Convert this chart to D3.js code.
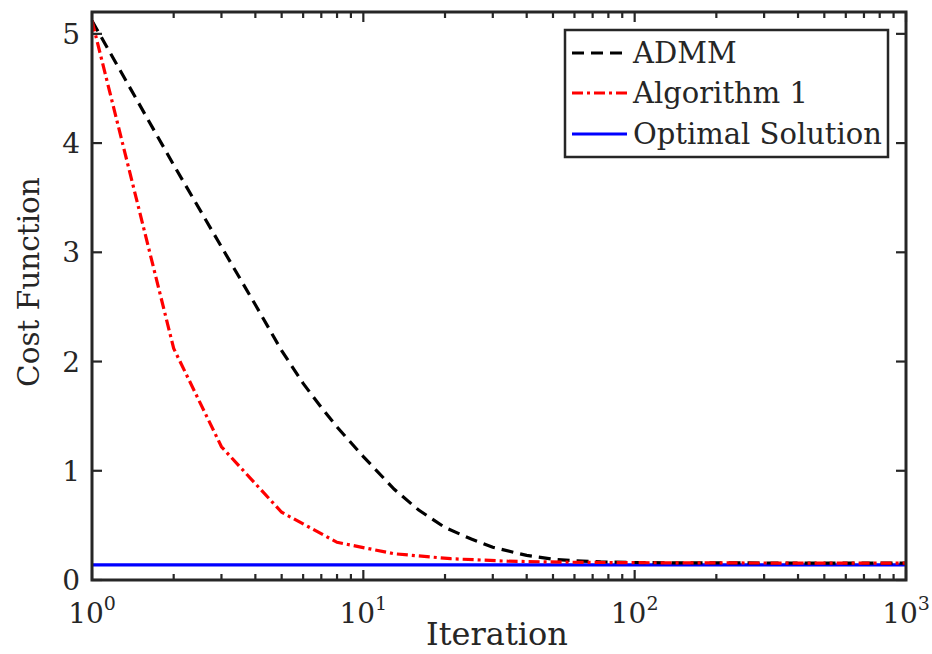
<!DOCTYPE html>
<html>
<head>
<meta charset="utf-8">
<script src="https://cdn.jsdelivr.net/npm/d3@7"></script>
<style>
  html, body { margin: 0; padding: 0; background: #fff; }
  svg { display: block; }
  text { font-family: "DejaVu Serif", "Liberation Serif", serif; fill: #262626; }
</style>
</head>
<body>
<svg id="chart" width="932" height="654"></svg>
<script>
// ADMM: cost function per iteration
const admmIter = [1, 2, 3, 4, 5, 6, 7, 8, 10, 13, 16, 20, 25, 30, 40, 50, 60, 75, 100, 150, 250, 500, 1000];
const admmCost = [5.12, 3.80, 3.05, 2.52, 2.10, 1.80, 1.58, 1.40, 1.13, 0.83, 0.64, 0.48, 0.375, 0.30, 0.225, 0.19, 0.176, 0.166, 0.16, 0.157, 0.156, 0.155, 0.155];
// Algorithm 1: cost function per iteration
const alg1Iter = [1, 2, 3, 5, 8, 13, 21, 34, 55, 89, 144, 233, 377, 610, 987, 1000];
const alg1Cost = [5.12, 2.12, 1.22, 0.62, 0.345, 0.24, 0.195, 0.172, 0.163, 0.159, 0.157, 0.156, 0.155, 0.155, 0.155, 0.155];
const optimalCost = 0.138;

const yTicks = [0, 1, 2, 3, 4, 5];
const xMajorTicks = [1, 10, 100, 1000];
const xTickExponents = ["0", "1", "2", "3"];
const legendLabels = ["ADMM", "Algorithm 1", "Optimal Solution"];

const W = 932, H = 654;
const m = { left: 92, right: 26, top: 12, bottom: 74 };
const plotW = W - m.left - m.right;
const plotH = H - m.top - m.bottom;
const axisColor = "#262626";

const svg = d3.select("#chart");
const g = svg.append("g").attr("transform", `translate(${m.left},${m.top})`);

const x = d3.scaleLog().domain([1, 1000]).range([0, plotW]);
const y = d3.scaleLinear().domain([0, 5.2]).range([plotH, 0]);

g.append("defs").append("clipPath").attr("id", "plotClip")
  .append("rect").attr("x", 0).attr("y", 0).attr("width", plotW).attr("height", plotH);

// Minor log ticks 2..9 per decade
const minorTicks = [];
for (let d = 1; d < 1000; d *= 10) for (let k = 2; k <= 9; k++) minorTicks.push(d * k);

const ticks = g.append("g").attr("stroke", axisColor).attr("stroke-width", 2.2);
// bottom and top x ticks (inward)
minorTicks.forEach(v => {
  ticks.append("line").attr("x1", x(v)).attr("x2", x(v)).attr("y1", plotH).attr("y2", plotH - 6);
  ticks.append("line").attr("x1", x(v)).attr("x2", x(v)).attr("y1", 0).attr("y2", 6);
});
xMajorTicks.forEach(v => {
  ticks.append("line").attr("x1", x(v)).attr("x2", x(v)).attr("y1", plotH).attr("y2", plotH - 10);
  ticks.append("line").attr("x1", x(v)).attr("x2", x(v)).attr("y1", 0).attr("y2", 10);
});
// left and right y ticks (inward)
yTicks.forEach(v => {
  ticks.append("line").attr("x1", 0).attr("x2", 10).attr("y1", y(v)).attr("y2", y(v));
  ticks.append("line").attr("x1", plotW).attr("x2", plotW - 10).attr("y1", y(v)).attr("y2", y(v));
});

// Data lines
const lines = g.append("g").attr("clip-path", "url(#plotClip)");

lines.append("line")
  .attr("x1", x(1)).attr("x2", x(1000))
  .attr("y1", y(optimalCost)).attr("y2", y(optimalCost))
  .attr("stroke", "#0000ff").attr("stroke-width", 3.2);

const admmLine = d3.line().x((d, i) => x(admmIter[i])).y(d => y(d));
lines.append("path").datum(admmCost)
  .attr("d", admmLine).attr("fill", "none")
  .attr("stroke", "#000").attr("stroke-width", 3.2)
  .attr("stroke-dasharray", "12,7");

const alg1Line = d3.line().x((d, i) => x(alg1Iter[i])).y(d => y(d));
lines.append("path").datum(alg1Cost)
  .attr("d", alg1Line).attr("fill", "none")
  .attr("stroke", "#ff0000").attr("stroke-width", 3.2)
  .attr("stroke-dasharray", "11,4,3,4");

// Axis box
g.append("rect").attr("x", 0).attr("y", 0).attr("width", plotW).attr("height", plotH)
  .attr("fill", "none").attr("stroke", axisColor).attr("stroke-width", 3);

// Y tick labels
g.append("g").selectAll("text").data(yTicks).join("text")
  .attr("x", -12).attr("y", d => y(d) + 10)
  .attr("text-anchor", "end").attr("font-size", 28)
  .text(d => d);

// X tick labels (10^k)
const xl = g.append("g").selectAll("text").data(xMajorTicks).join("text")
  .attr("x", d => x(d)).attr("y", plotH + 43)
  .attr("text-anchor", "middle").attr("font-size", 28);
xl.append("tspan").text("10");
xl.append("tspan").attr("font-size", 19).attr("dy", -13).text((d, i) => xTickExponents[i]);

// Axis titles
g.append("text").attr("x", plotW / 2 - 2).attr("y", plotH + 65)
  .attr("text-anchor", "middle").attr("font-size", 32).text("Iteration");
svg.append("text").attr("transform", `translate(39,${m.top + 270}) rotate(-90)`)
  .attr("text-anchor", "middle").attr("font-size", 29.5).text("Cost Function");

// Legend
const lg = svg.append("g");
lg.append("rect").attr("x", 565).attr("y", 30).attr("width", 323).attr("height", 127)
  .attr("fill", "#fff").attr("stroke", axisColor).attr("stroke-width", 2.5);
const legendStyles = [
  { color: "#000", dash: "12,7" },
  { color: "#ff0000", dash: "11,4,3,4" },
  { color: "#0000ff", dash: null }
];
const rowY = [53, 93, 134];
legendLabels.forEach((lab, i) => {
  lg.append("line").attr("x1", 572).attr("x2", 627).attr("y1", rowY[i]).attr("y2", rowY[i])
    .attr("stroke", legendStyles[i].color).attr("stroke-width", 3.2)
    .attr("stroke-dasharray", legendStyles[i].dash);
  lg.append("text").attr("x", 633).attr("y", rowY[i] + 9.5).attr("font-size", 29).text(lab);
});
</script>
</body>
</html>
